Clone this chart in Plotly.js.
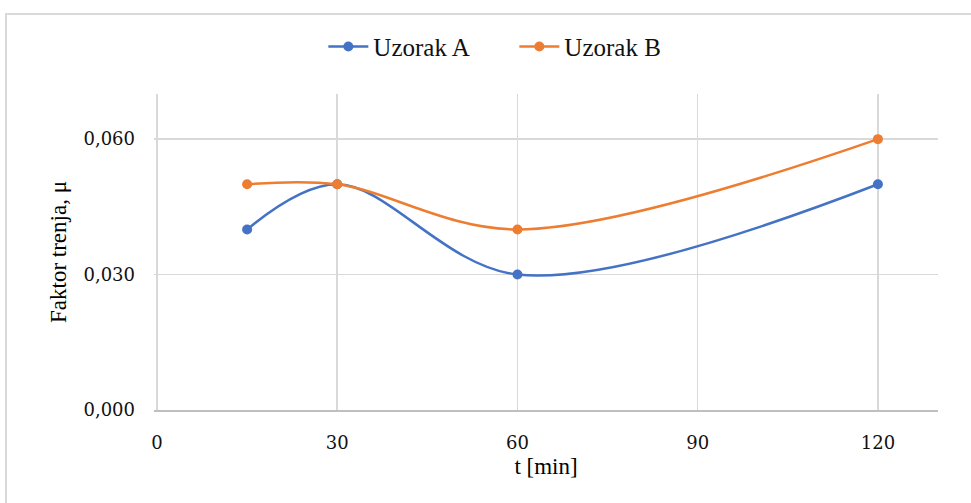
<!DOCTYPE html>
<html>
<head>
<meta charset="utf-8">
<script src="https://cdn.plot.ly/plotly-3.0.1.min.js"></script>
<style>
html,body{margin:0;padding:0;background:#fff;overflow:hidden;}
#frame{position:absolute;left:5px;top:13px;width:1100px;height:700px;border:2px solid #d9d9d9;box-sizing:border-box;}
#chart{position:absolute;left:0;top:0;width:971px;height:503px;}
</style>
</head>
<body>
<div id="frame"></div>
<div id="chart"></div>
<script>
const times = [15, 30, 60, 120];
const uzorakA = [0.040, 0.050, 0.030, 0.050];
const uzorakB = [0.050, 0.050, 0.040, 0.060];
const seriesNames = ['Uzorak A', 'Uzorak B'];
const xTicks = [0, 30, 60, 90, 120];
const yTicks = [0, 0.03, 0.06];

const serif = '"Liberation Serif", "Times New Roman", serif';
const tickFam = '"DejaVu Serif", serif';
const traces = [
  {x: times, y: uzorakA, name: seriesNames[0], type: 'scatter', mode: 'lines+markers',
   line: {color: '#4472C4', width: 2.5, shape: 'spline', smoothing: 1},
   marker: {color: '#4472C4', size: 10}},
  {x: times, y: uzorakB, name: seriesNames[1], type: 'scatter', mode: 'lines+markers',
   line: {color: '#ED7D31', width: 2.5, shape: 'spline', smoothing: 1},
   marker: {color: '#ED7D31', size: 10}}
];
const layout = {
  width: 971, height: 503,
  paper_bgcolor: 'rgba(0,0,0,0)', plot_bgcolor: 'rgba(0,0,0,0)',
  margin: {l: 154, r: 33, t: 94, b: 93},
  separators: ',.',
  font: {family: serif, color: '#000', size: 18},
  showlegend: true,
  legend: {orientation: 'h', x: 0.333, xanchor: 'left', xref: 'container',
    y: 0.907, yref: 'container', yanchor: 'middle',
    entrywidth: 136, entrywidthmode: 'pixels',
    font: {family: serif, size: 25, color: '#111'}, itemwidth: 40, tracegroupgap: 0},
  xaxis: {range: [-0.5, 130], tickvals: xTicks, ticktext: xTicks.map(String),
    showgrid: true, gridcolor: '#d9d9d9', gridwidth: 1.5,
    showline: true, linecolor: '#bfbfbf', linewidth: 1.5, zeroline: false,
    ticks: '', ticklabelstandoff: 16, tickfont: {family: tickFam, size: 18, color: '#111'},
    title: {text: 't [min]', font: {family: serif, size: 23}, standoff: 6}},
  yaxis: {range: [0, 0.07], tickvals: yTicks, tickformat: '.3f',
    showgrid: true, gridcolor: '#d9d9d9', gridwidth: 1.5, zeroline: false,
    showline: false, ticks: '', ticklabelstandoff: 18, tickfont: {family: tickFam, size: 18, color: '#111'},
    title: {text: 'Faktor trenja, μ', font: {family: serif, size: 23}, standoff: 10}}
};
Plotly.newPlot('chart', traces, layout, {displayModeBar: false, staticPlot: true});
</script>
</body>
</html>
